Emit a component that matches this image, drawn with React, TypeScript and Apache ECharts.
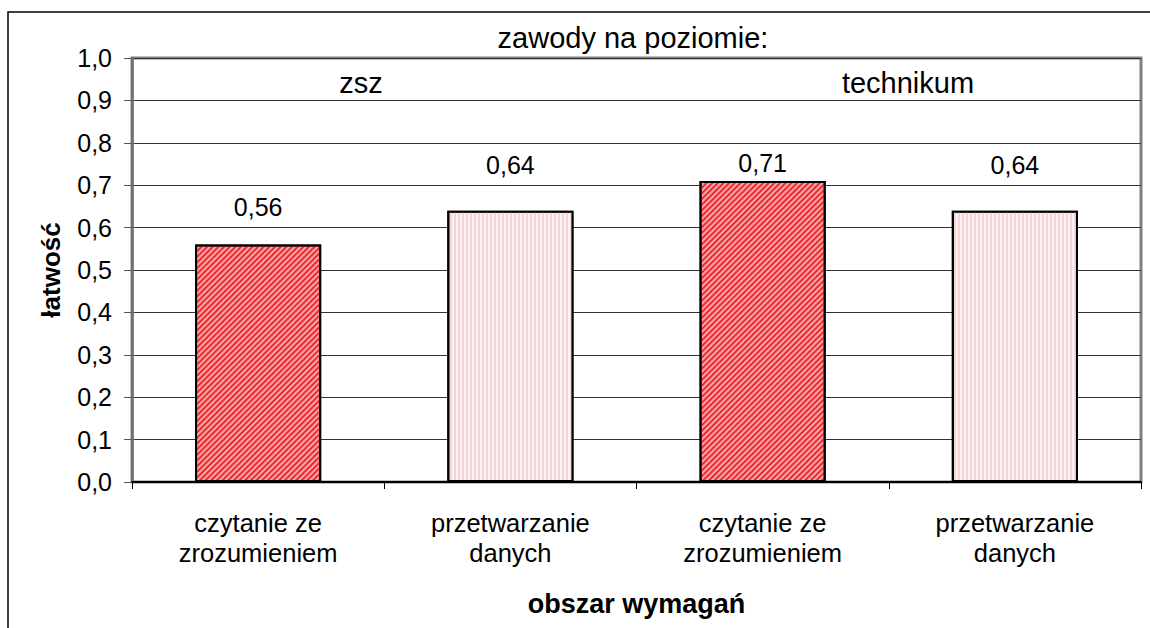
import React, { useEffect, useRef } from "react";
import * as echarts from "echarts";

const categories = [
  "czytanie ze\nzrozumieniem",
  "przetwarzanie\ndanych",
  "czytanie ze\nzrozumieniem",
  "przetwarzanie\ndanych",
];
const values = [0.56, 0.64, 0.71, 0.64];
const groupLabels = ["zsz", "technikum"];
const headerText = "zawody na poziomie:";
const yAxisTitle = "łatwość";
const xAxisTitle = "obszar wymagań";
const yTicks = [0, 0.1, 0.2, 0.3, 0.4, 0.5, 0.6, 0.7, 0.8, 0.9, 1.0];

const labelDistances = [25, 33, 5, 33];
const FONT = "'Liberation Sans', Arial, sans-serif";

const redStyle = {
  color: "#f8a8a8",
  borderColor: "#000",
  borderWidth: 2,
  decal: {
    symbol: "rect",
    symbolSize: 1,
    color: "#ec2a30",
    dashArrayX: [[1, 0]],
    dashArrayY: [1.5, 1.5],
    rotation: -Math.PI / 4,
  },
};
const pinkStyle = {
  color: "#fdf3f3",
  borderColor: "#000",
  borderWidth: 2,
  decal: {
    symbol: "rect",
    symbolSize: 1,
    color: "#f4d6d8",
    dashArrayX: [[1, 0]],
    dashArrayY: [2, 2],
    rotation: Math.PI / 2,
  },
};

export default function App() {
  const ref = useRef<HTMLDivElement>(null);
  useEffect(() => {
    if (!ref.current) return;
    const chart = echarts.init(ref.current, null, { renderer: "svg" });
    const fmt = (v: number) => v.toFixed(2).replace(".", ",");
    chart.setOption({
      animation: false,
      backgroundColor: "#fff",
      textStyle: { fontFamily: FONT },
      grid: {
        left: 132,
        right: 9,
        top: 58,
        bottom: 146,
        show: true,
        borderColor: "#808080",
        borderWidth: 3,
        backgroundColor: "transparent",
      },
      xAxis: {
        type: "category",
        data: categories,
        name: xAxisTitle,
        nameLocation: "middle",
        nameGap: 108,
        nameTextStyle: { fontFamily: FONT, fontSize: 27, fontWeight: "bold", color: "#000" },
        axisLine: { show: true, lineStyle: { color: "#000", width: 2 } },
        axisTick: { show: true, length: 7, lineStyle: { color: "#000", width: 1 } },
        axisLabel: {
          fontFamily: FONT,
          fontSize: 25.5,
          color: "#000",
          lineHeight: 30,
          margin: 26,
          interval: 0,
        },
      },
      yAxis: {
        type: "value",
        min: yTicks[0],
        max: yTicks[yTicks.length - 1],
        interval: 0.1,
        name: yAxisTitle,
        nameLocation: "middle",
        nameGap: 68,
        nameTextStyle: { fontFamily: FONT, fontSize: 26, fontWeight: "bold", color: "#000" },
        axisLine: { show: true, lineStyle: { color: "#707070", width: 2.5 } },
        axisTick: { show: true, length: 8, lineStyle: { color: "#555", width: 1 } },
        axisLabel: {
          fontFamily: FONT,
          fontSize: 25,
          color: "#000",
          margin: 20,
          formatter: (v: number) => v.toFixed(1).replace(".", ","),
        },
        splitLine: { show: true, lineStyle: { color: "#333", width: 1 } },
      },
      series: [
        {
          type: "bar",
          barWidth: "50%",
          data: values.map((v, i) => ({
            value: v,
            itemStyle: i % 2 === 0 ? redStyle : pinkStyle,
            label: {
              show: true,
              position: "top",
              distance: labelDistances[i],
              formatter: fmt(v),
              fontFamily: FONT,
              fontSize: 25,
              color: "#000",
            },
          })),
        },
      ],
      graphic: [
        {
          type: "rect",
          shape: { x: 8, y: 12, width: 1300, height: 800 },
          style: { fill: "none", stroke: "#000", lineWidth: 1.5 },
          silent: true,
        },
        {
          type: "text",
          x: 633,
          y: 38,
          style: {
            text: headerText,
            fontFamily: FONT,
            fontSize: 29,
            fill: "#000",
            align: "center",
            verticalAlign: "middle",
          },
        },
        {
          type: "text",
          x: 361,
          y: 83,
          style: {
            text: groupLabels[0],
            fontFamily: FONT,
            fontSize: 29,
            fill: "#000",
            align: "center",
            verticalAlign: "middle",
          },
        },
        {
          type: "text",
          x: 908,
          y: 83,
          style: {
            text: groupLabels[1],
            fontFamily: FONT,
            fontSize: 29,
            fill: "#000",
            align: "center",
            verticalAlign: "middle",
          },
        },
      ],
    });
    return () => chart.dispose();
  }, []);
  return (
    <div
      ref={ref}
      style={{ position: "absolute", left: 0, top: 0, width: 1150, height: 628 }}
    />
  );
}
